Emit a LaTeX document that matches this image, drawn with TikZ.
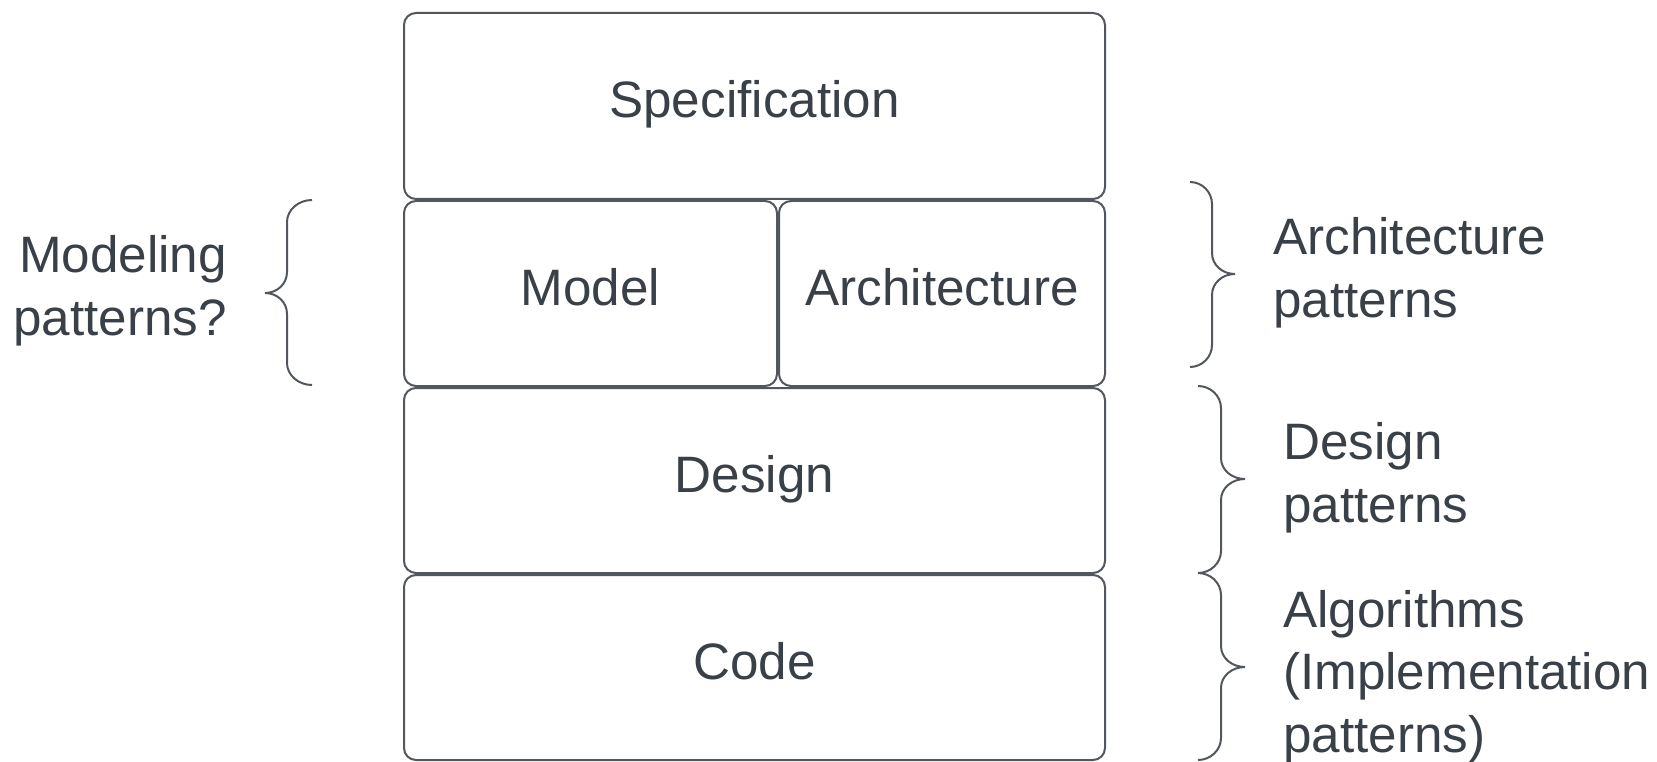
\documentclass[tikz,border=0pt]{standalone}
\usepackage{fontspec}
\setmainfont{Liberation Sans}
\definecolor{txt}{RGB}{58,64,72}
\definecolor{edge}{RGB}{82,87,94}
% #1 end x, #2 spine x, #3 tip x, #4 top y, #5 tip y, #6 bottom y
\newcommand\mybrace[6]{%
  \draw[bracestyle] (#1,#4) .. controls ({#1+0.55*(#2-#1)},#4) and (#2,#4+10) .. (#2,#4+22)
    -- (#2,#5-21) .. controls (#2,#5-9) and ({#2+0.45*(#3-#2)},#5) .. (#3,#5)
    .. controls ({#2+0.45*(#3-#2)},#5) and (#2,#5+9) .. (#2,#5+21)
    -- (#2,#6-22) .. controls (#2,#6-10) and ({#1+0.55*(#2-#1)},#6) .. (#1,#6);}
\begin{document}
\begin{tikzpicture}[x=1pt,y=-1pt,
  every node/.style={font=\fontsize{51.2}{62.5}\selectfont, text=txt},
  layer/.style={draw=edge, line width=2pt, rounded corners=12pt, inner sep=0pt,
    text height=36pt, text depth=12pt},
  sidelabel/.style={inner sep=0pt, anchor=base west, align=left},
  bracestyle/.style={draw=edge, line width=2pt}]
\useasboundingbox (0,0) rectangle (1657,762);
\node[layer, minimum width=701pt, minimum height=186pt] (spec) at (754.5,106) {Specification};
\node[layer, minimum width=373pt, minimum height=185pt] (model) at (590.5,293.5) {Model};
\node[layer, minimum width=326pt, minimum height=185pt] (arch) at (942,293.5) {Architecture};
\node[layer, minimum width=701pt, minimum height=185pt] (design) at (754.5,480.5) {Design};
\node[layer, minimum width=701pt, minimum height=185pt] (code) at (754.5,667.5) {Code};
% left brace (mirrored: end x 312, spine x 287, tip x 265)
\mybrace{312}{287}{265}{200}{293}{385}
\node[inner sep=0pt, anchor=base east, align=right] (modpat) at (227,335) {Modeling\\patterns?};
% right braces
\mybrace{1190}{1212}{1235}{182}{274}{367}
\mybrace{1198}{1221}{1245}{386}{479}{573}
\mybrace{1198}{1221}{1245}{573}{667}{760}
\node[sidelabel] (archpat) at (1273,317) {Architecture\\patterns};
\node[sidelabel] (despat) at (1283,522) {Design\\patterns};
\node[sidelabel] (algpat) at (1283,752) {Algorithms\\(Implementation\\patterns)};
\end{tikzpicture}
\end{document}
